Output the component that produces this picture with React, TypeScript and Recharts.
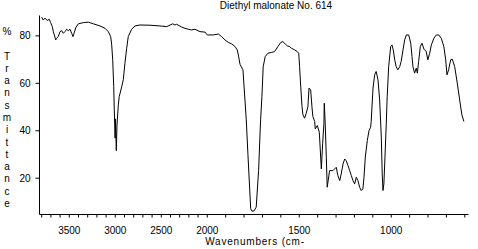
import React from 'react';
import { LineChart, Line, XAxis, YAxis } from 'recharts';

// Spectrum (wavenumber cm-1, % transmittance)
const wavenumbers = [
  3800, 3783, 3764, 3740, 3718, 3703, 3685, 3674, 3663, 3648, 3637, 3620, 3601, 3583, 3565, 3547,
  3529, 3511, 3492, 3474, 3460, 3449, 3427, 3402, 3347, 3293, 3239, 3166, 3112, 3076, 3050, 3039,
  3028, 3017, 3011, 3002, 2998, 2989, 2982, 2967, 2957, 2930, 2913, 2895, 2876, 2859, 2822, 2786,
  2732, 2623, 2514, 2441, 2376, 2351, 2333, 2278, 2242, 2207, 2170, 2134, 2079, 2025, 2000, 1967,
  1940, 1922, 1904, 1886, 1867, 1849, 1837, 1830, 1822, 1806, 1788, 1779, 1764, 1757, 1746, 1734,
  1721, 1714, 1710, 1703, 1696, 1685, 1670, 1652, 1634, 1616, 1601, 1589, 1576, 1565, 1552, 1543,
  1525, 1511, 1503, 1498, 1492, 1485, 1480, 1471, 1462, 1453, 1447, 1438, 1431, 1426, 1416, 1413,
  1402, 1391, 1380, 1373, 1366, 1364, 1359, 1353, 1348, 1335, 1317, 1308, 1299, 1290, 1280, 1272,
  1262, 1253, 1245, 1235, 1226, 1217, 1208, 1199, 1190, 1181, 1172, 1163, 1154, 1148, 1141, 1130,
  1121, 1112, 1109, 1099, 1090, 1082, 1072, 1063, 1054, 1049, 1045, 1040, 1034, 1027, 1022, 1014,
  1003, 996, 989, 981, 973, 964, 954, 946, 936, 927, 918, 905, 894, 887, 882, 873,
  864, 858, 851, 842, 833, 822, 810, 801, 791, 782, 768, 755, 742, 728, 714, 704,
  697, 688, 677, 668, 655, 641, 628, 616, 605,
];
const transmittance = [
  87.9, 86.7, 87.5, 86.5, 87.0, 85.6, 83.9, 81.8, 80.4, 78.3, 79.0, 79.7, 81.8, 82.2, 81.1, 81.8,
  82.8, 82.2, 82.8, 81.1, 79.7, 81.1, 83.7, 85.1, 85.6, 85.8, 85.1, 84.2, 83.2, 81.8, 79.7, 76.2,
  69.9, 58.6, 48.8, 36.9, 45.0, 31.6, 42.0, 50.9, 54.4, 58.6, 61.5, 68.5, 74.8, 79.7, 82.8, 84.2,
  84.6, 84.5, 84.2, 83.9, 85.1, 84.6, 84.9, 83.7, 83.2, 82.8, 82.5, 82.8, 81.8, 81.6, 80.4, 80.4,
  80.8, 79.7, 78.3, 77.3, 76.6, 75.5, 74.1, 71.5, 68.0, 65.7, 44.6, 30.0, 7.1, 6.1, 6.2, 7.8,
  23.2, 37.3, 44.6, 54.4, 67.0, 71.3, 72.7, 73.0, 73.4, 75.5, 77.2, 77.6, 76.6, 75.8, 75.5, 74.8,
  74.1, 73.4, 72.7, 67.0, 58.6, 50.2, 46.7, 45.3, 47.4, 50.2, 58.0, 57.2, 50.2, 46.0, 43.9, 40.8,
  42.2, 39.4, 23.9, 34.5, 42.9, 51.6, 43.2, 28.9, 16.2, 23.2, 23.2, 23.9, 24.6, 21.1, 19.0, 21.8,
  26.0, 28.1, 27.4, 25.3, 23.2, 21.1, 19.0, 17.6, 20.4, 19.0, 16.2, 14.8, 15.5, 20.4, 28.9, 35.9,
  40.0, 41.5, 43.9, 58.0, 63.6, 65.0, 61.5, 53.0, 37.3, 21.8, 14.8, 17.6, 28.9, 42.9, 54.4, 67.0,
  75.5, 76.2, 74.1, 69.9, 67.0, 65.7, 67.0, 69.2, 74.1, 78.3, 80.4, 80.4, 76.9, 71.3, 67.0, 64.3,
  66.4, 64.3, 69.2, 75.5, 76.9, 74.4, 73.4, 69.9, 72.7, 76.2, 79.0, 80.4, 80.4, 79.0, 75.5, 69.9,
  63.6, 65.7, 69.9, 70.2, 67.0, 60.1, 53.0, 46.7, 43.9,
];

const xTickWavenumbers = [
  3800, 3700, 3600, 3500, 3400, 3300, 3200, 3100, 3000, 2900, 2800, 2700, 2600, 2500, 2400, 2300,
  2200, 2100, 2000, 1900, 1800, 1700, 1600, 1500, 1400, 1300, 1200, 1100, 1000, 900, 800, 700, 600,
];
const xTickLabelValues = [3500, 3000, 2500, 2000, 1500, 1000];
const yTicks = [20, 40, 60, 80];

const chartTitle = 'Diethyl malonate No. 614';
const xTitle = 'Wavenumbers (cm-';
const yTitleLetters = ['%', '', 'T', 'r', 'a', 'n', 's', 'm', 'i', 't', 't', 'a', 'n', 'c', 'e'];

// axis is compressed 2x above 2000 cm-1
const BREAK = 2000;
const toU = (wn: number) => (wn <= BREAK ? wn : BREAK + (wn - BREAK) / 2);
const fromU = (u: number) => (u <= BREAK ? u : BREAK + (u - BREAK) * 2);

const data = wavenumbers.map((wn, i) => ({ u: toU(wn), t: transmittance[i] }));

const FONT = '"Liberation Sans", Arial, sans-serif';
const X_DOMAIN: [number, number] = [580, 2912];
const Y_DOMAIN: [number, number] = [4.7, 88.6];

export default function App() {
  return (
    <div style={{ position: 'absolute', left: 0, top: 0, width: 478, height: 249, background: '#fff' }}>
      <LineChart
        width={478}
        height={249}
        data={data}
        margin={{ top: 15.5, right: 9.5, bottom: 0, left: 0 }}
      >
        <XAxis
          dataKey="u"
          type="number"
          domain={X_DOMAIN}
          allowDataOverflow
          reversed
          ticks={xTickWavenumbers.map(toU)}
          interval={0}
          tickFormatter={(u: number) => {
            const wn = Math.round(fromU(u));
            return xTickLabelValues.includes(wn) ? String(wn) : '';
          }}
          tickSize={3}
          tickMargin={9}
          height={34.5}
          stroke="#000"
          tickLine={{ stroke: '#000' }}
          tick={{ fill: '#000', fontSize: 10, fontFamily: FONT }}
        />
        <XAxis
          xAxisId="top"
          orientation="top"
          type="number"
          domain={X_DOMAIN}
          height={0}
          tick={false}
          tickLine={false}
          stroke="#000"
        />
        <YAxis
          type="number"
          domain={Y_DOMAIN}
          allowDataOverflow
          ticks={yTicks}
          interval={0}
          tickSize={4}
          tickMargin={5}
          width={39.5}
          stroke="#000"
          tickLine={{ stroke: '#000' }}
          tick={{ fill: '#000', fontSize: 10, fontFamily: FONT }}
        />
        <YAxis
          yAxisId="right"
          orientation="right"
          type="number"
          domain={[0, 1]}
          width={0}
          tick={false}
          tickLine={false}
          stroke="#000"
        />
        <Line
          dataKey="t"
          type="linear"
          stroke="#000"
          strokeWidth={1}
          dot={false}
          activeDot={false}
          isAnimationActive={false}
        />
      </LineChart>
      <svg
        width={478}
        height={249}
        style={{ position: 'absolute', left: 0, top: 0, pointerEvents: 'none' }}
      >
        <text x={276} y={8.5} textAnchor="middle" fontSize={10} fontFamily={FONT} fill="#000">
          {chartTitle}
        </text>
        <text x={255} y={245} textAnchor="middle" fontSize={10} fontFamily={FONT} fill="#000" letterSpacing={0.8}>
          {xTitle}
        </text>
        <text x={7} y={35} textAnchor="middle" fontSize={10} fontFamily={FONT} fill="#000">
          {yTitleLetters.map((ch, i) => (
            <tspan key={i} x={7} y={35 + i * 12.28}>
              {ch}
            </tspan>
          ))}
        </text>
      </svg>
    </div>
  );
}
